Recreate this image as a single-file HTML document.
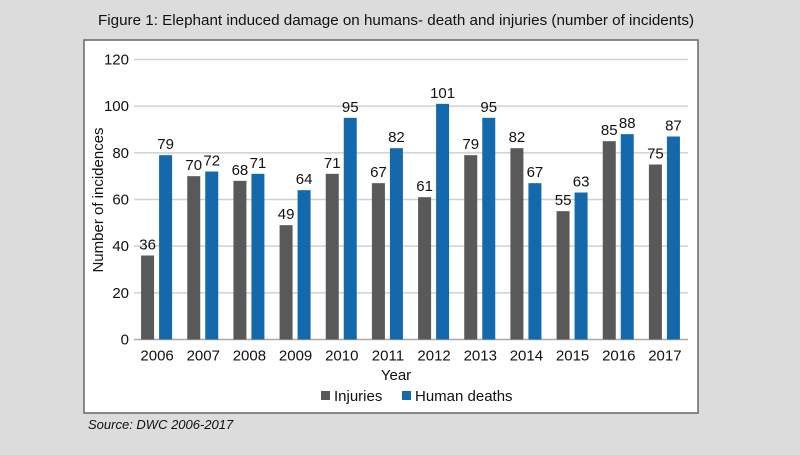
<!DOCTYPE html>
<html><head><meta charset="utf-8"><style>
body{margin:0;width:800px;height:450px;background:#dcdcdc;font-family:"Liberation Sans",sans-serif;overflow:hidden}
svg text{font-family:"Liberation Sans",sans-serif}
</style></head><body>
<svg width="800" height="450">
<text x="98" y="25" font-size="15.2" fill="#111">Figure 1: Elephant induced damage on humans- death and injuries (number of incidents)</text>
<rect x="84" y="40" width="614" height="373" fill="#fff" stroke="#666" stroke-width="1.5"/>
<g id="grid"></g><g id="bars"></g>
<text x="396" y="380" font-size="15" text-anchor="middle" fill="#111">Year</text>
<text transform="translate(103,200) rotate(-90)" font-size="15" text-anchor="middle" fill="#111">Number of incidences</text>
<g>
<rect x="321" y="391" width="9" height="9" fill="#595959"/>
<text x="334" y="401" font-size="15" fill="#111">Injuries</text>
<rect x="402" y="391" width="9" height="9" fill="#1469ad"/>
<text x="415" y="401" font-size="15" fill="#111">Human deaths</text>
</g>
<text x="88" y="429" font-size="13" font-style="italic" fill="#111">Source: DWC 2006-2017</text>
</svg>
<script>
const years=["2006","2007","2008","2009","2010","2011","2012","2013","2014","2015","2016","2017"];
const injuries=[36,70,68,49,71,67,61,79,82,55,85,75];
const deaths=[79,72,71,64,95,82,101,95,67,63,88,87];
const yTicks=[0,20,40,60,80,100,120];
const NS="http://www.w3.org/2000/svg";
const x0=134,x1=688,yTop=59.5,yBot=339.5,ymax=120;
const y=v=>yBot-(v/ymax)*(yBot-yTop);
const bw=(x1-x0)/years.length;
const cx=i=>x0+bw*(i+0.5);
function mk(t,a,p){const e=document.createElementNS(NS,t);for(const k in a)e.setAttribute(k,a[k]);p.appendChild(e);return e;}
const g=document.getElementById('grid'),b=document.getElementById('bars');
yTicks.forEach(v=>{
 const l=mk('line',{x1:x0,x2:x1,y1:y(v),y2:y(v),stroke:v===0?'#aaa':'#d0d0d0','stroke-width':1.5},g);
 
 
 const t=mk('text',{x:x0-5,y:y(v)+5,'font-size':15,'text-anchor':'end',fill:'#111'},g);t.textContent=v;
 
 
});
years.forEach((yr,i)=>{
 const c=cx(i),w=13;
 const r1=mk('rect',{x:c-16,y:y(injuries[i]),width:w,height:yBot-y(injuries[i]),fill:'#595959'},b);
 
 
 const r2=mk('rect',{x:c+2,y:y(deaths[i]),width:w,height:yBot-y(deaths[i]),fill:'#1469ad'},b);
 
 
 const t1=mk('text',{x:c-9.5,y:y(injuries[i])-6,'font-size':15,'text-anchor':'middle',fill:'#111'},b);t1.textContent=injuries[i];
 
 
 const t2=mk('text',{x:c+8.5,y:y(deaths[i])-6,'font-size':15,'text-anchor':'middle',fill:'#111'},b);t2.textContent=deaths[i];
 
 
 const tx=mk('text',{x:c,y:yBot+21,'font-size':15,'text-anchor':'middle',fill:'#111'},b);tx.textContent=yr;
 
 
});
</script>
</body></html>
